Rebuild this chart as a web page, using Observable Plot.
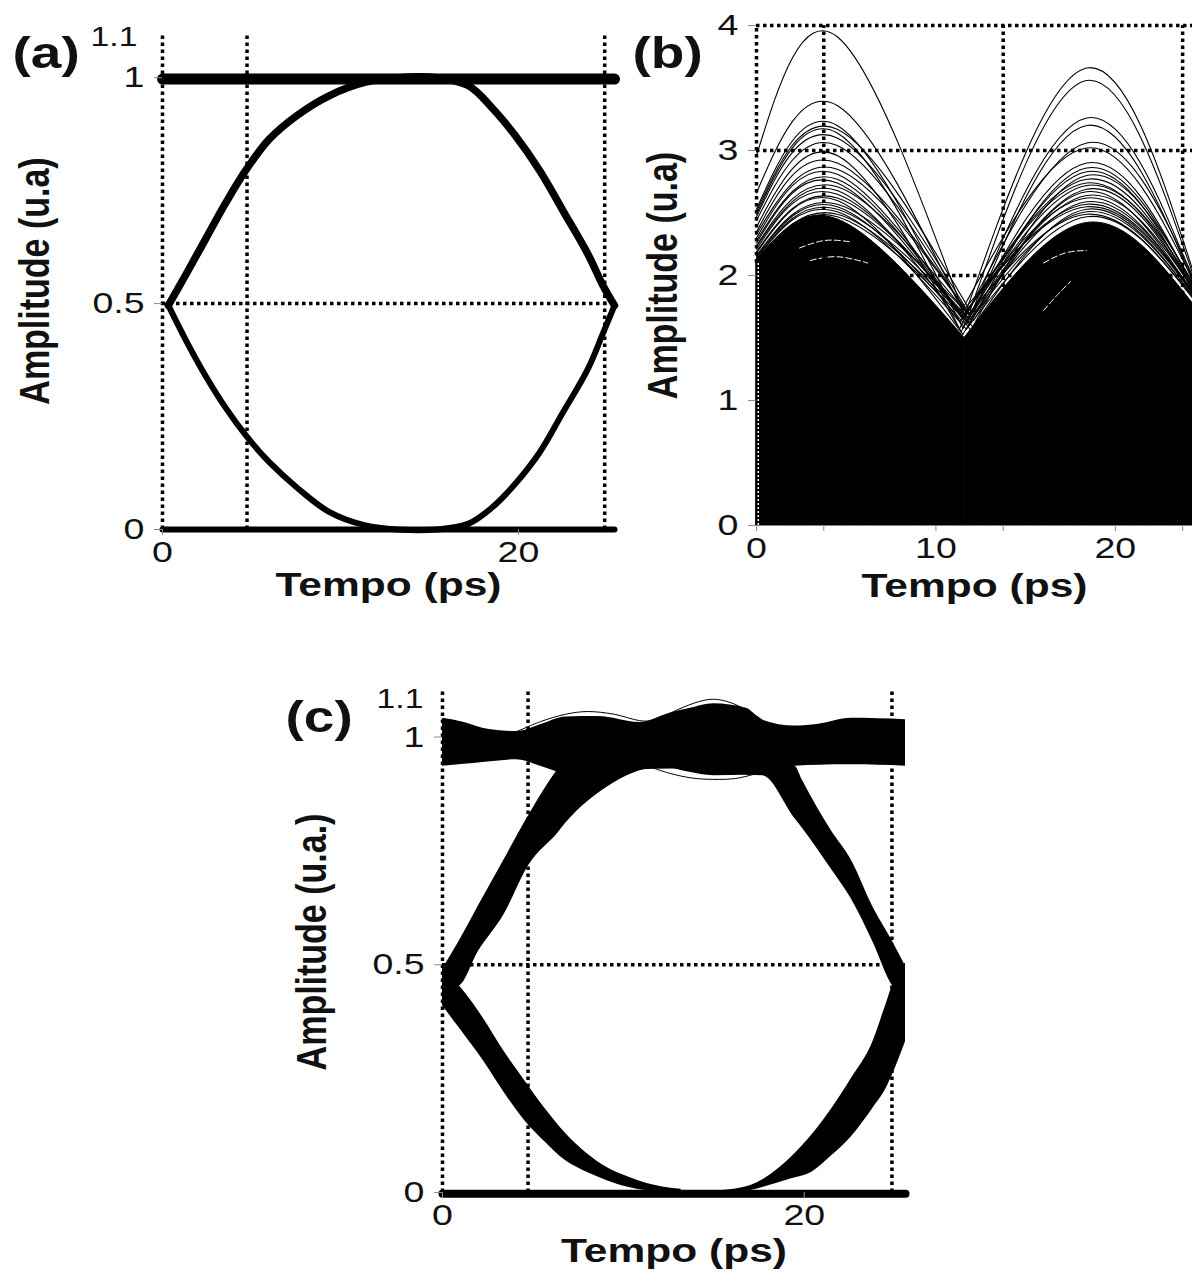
<!DOCTYPE html>
<html>
<head>
<meta charset="utf-8">
<script src="https://cdn.jsdelivr.net/npm/d3@7"></script>
<script src="https://cdn.jsdelivr.net/npm/@observablehq/plot@0.6"></script>
<style>
  html, body { margin: 0; padding: 0; background: #fff; }
  #fig { position: relative; width: 1192px; height: 1278px; overflow: hidden; background: #fff; }
  #fig svg { position: absolute; overflow: visible; }
</style>
</head>
<body>
<div id="fig"></div>
<script>
// ---------- (a) back-to-back eye: arc samples, time in ps, amplitude in a.u. ----------
const aTime  = [0.33, 1.34, 2.45, 3.57, 4.73, 6.0, 7.58, 9.36, 11.4, 13.2, 15.4, 17.2, 18.5, 19.8, 21.2, 22.5, 23.9, 24.75, 25.4];
const aUpper = [0.496, 0.566, 0.645, 0.724, 0.798, 0.864, 0.917, 0.96, 0.99, 1.0, 1.0, 0.982, 0.934, 0.873, 0.794, 0.706, 0.61, 0.54, 0.496];
const aLower = [0.496, 0.417, 0.338, 0.268, 0.206, 0.149, 0.092, 0.039, 0.009, 0.0, 0.0, 0.013, 0.048, 0.10, 0.171, 0.259, 0.355, 0.434, 0.496];
const aRailT = [0, 25.4];
const aOnes  = [0.997, 0.997];
const aZeros = [0.0, 0.0];
const aGridX = [0, 4.75, 24.85];
const aGridY = [0.5];

// ---------- (b) unfiltered eye: one row per trace ----------
const bPeak1At = 4.5, bPeak2At = 18.4, bEndAt = 24.3;
const bStart    = [2.96, 2.66, 2.53, 2.51, 2.49, 2.47, 2.44, 2.39, 2.35, 2.33, 2.30, 2.28, 2.26, 2.24, 2.23, 2.21, 2.19, 2.18, 2.16, 2.15, 2.14, 2.13, 2.12, 2.11];
const bPeak1    = [3.91, 3.36, 3.20, 3.17, 3.14, 3.10, 3.04, 2.96, 2.90, 2.85, 2.81, 2.77, 2.74, 2.71, 2.68, 2.65, 2.62, 2.60, 2.57, 2.55, 2.53, 2.51, 2.49, 2.47];
const bTroughAt = [11.75, 11.6, 11.5, 11.9, 11.4, 12.0, 11.7, 11.3, 12.1, 11.55, 11.85, 11.45, 11.95, 11.65, 11.35, 12.05, 11.75, 11.5, 11.8, 11.6, 11.9, 11.7, 11.4, 11.8];
const bTrough   = [1.62, 1.68, 1.58, 1.72, 1.55, 1.66, 1.70, 1.57, 1.64, 1.75, 1.60, 1.67, 1.56, 1.71, 1.63, 1.59, 1.66, 1.53, 1.69, 1.61, 1.65, 1.57, 1.70, 1.62];
const bPeak2    = [3.26, 3.66, 2.90, 3.56, 2.83, 3.20, 2.74, 3.06, 2.67, 3.02, 2.86, 2.62, 2.80, 2.57, 2.77, 2.53, 2.72, 2.69, 2.49, 2.64, 2.59, 2.47, 2.55, 2.51];
const bEnd      = [1.98, 2.05, 1.92, 2.02, 1.88, 1.96, 1.90, 2.00, 1.86, 1.97, 1.93, 1.85, 1.95, 1.87, 1.91, 1.84, 1.94, 1.89, 1.83, 1.90, 1.88, 1.82, 1.86, 1.84];
// solid body of overlapping traces (two arcs)
const bMassT   = [[0, 4.5, 11.6], [11.6, 18.4, 24.3]];
const bMassTop = [[2.12, 2.45, 1.50], [1.50, 2.42, 1.78]];
// thin gaps left open inside the solid body
const bGapT = [[3.0, 4.5, 6.2], [2.4, 3.8, 5.2], [16.0, 17.2, 18.4], [16.0, 16.8, 17.5]];
const bGapV = [[2.12, 2.15, 2.10], [2.22, 2.28, 2.27], [2.10, 2.18, 2.20], [1.72, 1.85, 1.95]];
const bGridX = [3.75, 13.75, 23.75];
const bGridY = [2, 3, 4];
const bTicksX = [0, 3.75, 10, 13.75, 20, 23.75];

// ---------- (c) filtered eye: band envelopes (lower / upper) ----------
const cTopT  = [0, 1.2, 2.5, 4.1, 5.5, 6.8, 8.6, 10.9, 12.7, 13.6, 15.0, 16.8, 17.7, 19.5, 20.8, 22.6, 25.6];
const cTopLo = [0.936, 0.94, 0.945, 0.95, 0.935, 0.92, 0.918, 0.928, 0.93, 0.923, 0.915, 0.916, 0.923, 0.936, 0.938, 0.939, 0.936];
const cTopHi = [1.041, 1.032, 1.017, 1.012, 1.028, 1.044, 1.045, 1.032, 1.054, 1.062, 1.073, 1.063, 1.037, 1.024, 1.028, 1.041, 1.038];
const cRiseT  = [0, 0.9, 2, 3.4, 4.8, 6.4, 6.8, 9.1, 10.5, 12];
const cRiseLo = [0.45, 0.453, 0.53, 0.61, 0.72, 0.79, 0.81, 0.89, 0.92, 0.936];
const cRiseHi = [0.49, 0.55, 0.63, 0.73, 0.83, 0.93, 0.95, 0.95, 0.95, 0.95];
const cFallT  = [16.8, 17.7, 19.5, 19.9, 21.5, 22.6, 23.8, 24.9, 25.6];
const cFallLo = [0.916, 0.915, 0.82, 0.80, 0.71, 0.645, 0.55, 0.453, 0.43];
const cFallHi = [0.95, 0.95, 0.936, 0.905, 0.794, 0.73, 0.627, 0.55, 0.497];
const cDropT  = [0, 0.95, 2.3, 3.4, 4.56, 5.7, 6.8, 7.95, 9.1, 10.2, 11.3, 13.2];
const cDropLo = [0.41, 0.36, 0.287, 0.22, 0.157, 0.11, 0.07, 0.045, 0.026, 0.012, 0.004, 0.0];
const cDropHi = [0.49, 0.453, 0.38, 0.31, 0.245, 0.183, 0.13, 0.087, 0.055, 0.035, 0.02, 0.007];
const cClimbT  = [15, 16.5, 17, 19.3, 20.4, 21.5, 22.6, 23.8, 24.5, 24.9, 25.6];
const cClimbLo = [0.0, 0.0, 0.004, 0.03, 0.044, 0.08, 0.122, 0.185, 0.226, 0.26, 0.331];
const cClimbHi = [0.003, 0.01, 0.015, 0.078, 0.125, 0.183, 0.25, 0.331, 0.41, 0.453, 0.47];
const cRailT = [0, 25.6];
const cZeros = [-0.003, -0.003];
// stray traces just outside the "one" band
const cOut1T = [4.1, 5.5, 6.8, 8.0, 9.5, 10.9, 11.8];
const cOut1  = [1.012, 1.035, 1.05, 1.056, 1.05, 1.036, 1.035];
const cOut2T = [11.8, 13.0, 14.2, 15.0, 15.9, 17.0, 17.7];
const cOut2  = [1.035, 1.06, 1.078, 1.083, 1.076, 1.055, 1.037];
const cOut3T = [11.5, 12.6, 13.8, 15.0, 16.2, 17.2];
const cOut3  = [0.934, 0.92, 0.91, 0.907, 0.909, 0.918];
const cGridX = [0, 4.73, 24.85];
const cGridY = [0.5];

// ---------- helpers ----------
const FONT = "Liberation Sans";
const GRID = {stroke: "#000", strokeWidth: 3.5, strokeDasharray: "3.5,3.5"};
const TICK = {stroke: "#8c8c8c", fill: "#111", fontSize: 30, label: null};
const pts = (T, V) => T.map((t, i) => ({t, v: V[i]}));
const band = (T, L, H) => T.map((t, i) => ({t, lo: L[i], hi: H[i]}));

// traces of (b): each trace is two arcs meeting at its trough
const bRows = [];
bPeak1.forEach((p, i) => {
  bRows.push({id: i + "a", t: 0, v: bStart[i]}, {id: i + "a", t: bPeak1At, v: p}, {id: i + "a", t: bTroughAt[i], v: bTrough[i]});
  bRows.push({id: i + "b", t: bTroughAt[i], v: bTrough[i]}, {id: i + "b", t: bPeak2At, v: bPeak2[i]}, {id: i + "b", t: bEndAt, v: bEnd[i]});
});
const bMass = bMassT.flatMap((T, k) => T.map((t, i) => ({seg: k, t, v: bMassTop[k][i]})));
const bGaps = bGapT.flatMap((T, k) => T.map((t, i) => ({seg: k, t, v: bGapV[k][i]})));

function titles(xTitle, yTitle, panel, dyX, dxY, dxP, dyP) {
  return [
    Plot.text([xTitle], {text: d => d, frameAnchor: "bottom", dy: dyX, fontSize: 34, fontWeight: "bold", fill: "#111"}),
    Plot.text([yTitle], {text: d => d, frameAnchor: "left", dx: dxY, rotate: -90, textAnchor: "middle", fontSize: 34, fontWeight: "bold", fill: "#111"}),
    Plot.text([panel], {text: d => d, frameAnchor: "top-left", dx: dxP, dy: dyP, textAnchor: "start", fontSize: 44, fontWeight: "bold", fill: "#111"})
  ];
}

// text in this figure is set wider than the font's natural proportions
function widen(svg, k) {
  for (const t of svg.querySelectorAll("text")) {
    const own = t.getAttribute("transform") || "";
    if (own.includes("rotate")) { t.setAttribute("transform", own + ` scale(1,${k})`); continue; }
    const w = t.getComputedTextLength();
    if (w > 0) { t.setAttribute("textLength", (w * k).toFixed(1)); t.setAttribute("lengthAdjust", "spacingAndGlyphs"); }
  }
}

function mount(svg, left, top) {
  svg.style.left = left + "px";
  svg.style.top = top + "px";
  document.getElementById("fig").appendChild(svg);
  widen(svg, 1.25);
}

const style = {fontFamily: FONT, background: "transparent", overflow: "visible"};

// ---------- (a) ----------
const plotA = Plot.plot({
  width: 620, height: 640,
  marginLeft: 162, marginRight: 6, marginTop: 32, marginBottom: 111,
  x: {domain: [0, 25.4]}, y: {domain: [0, 1.1]},
  style,
  marks: [
    Plot.ruleX(aGridX, {y1: 0, y2: 1.1, ...GRID}),
    Plot.ruleY(aGridY, {x1: 0, x2: 25.4, ...GRID}),
    Plot.line(pts(aRailT, aOnes), {x: "t", y: "v", stroke: "#000", strokeWidth: 11}),
    Plot.line(pts(aRailT, aZeros), {x: "t", y: "v", stroke: "#000", strokeWidth: 6}),
    Plot.line(pts(aTime, aUpper), {x: "t", y: "v", curve: "catmull-rom", stroke: "#000", strokeWidth: 7.5}),
    Plot.line(pts(aTime, aLower), {x: "t", y: "v", curve: "catmull-rom", stroke: "#000", strokeWidth: 6}),
    Plot.axisX({ticks: [0, 20], tickSize: 6, tickPadding: 5, tickFormat: d => String(d), ...TICK}),
    Plot.axisY({ticks: [0, 0.5, 1], tickSize: 8, tickPadding: 10, tickFormat: d => String(d), ...TICK}),
    Plot.text(["1.1"], {text: d => d, frameAnchor: "top-left", dx: -25, dy: -6, textAnchor: "end", fontSize: 27, fill: "#111"}),
    ...titles("Tempo (ps)", "Amplitude (u.a)", "(a)", 66, -127, -150, 4)
  ]
});
mount(plotA, 0, 0);

// ---------- (b) ----------
const plotB = Plot.plot({
  width: 592, height: 640,
  marginLeft: 156, marginRight: 0, marginTop: 25, marginBottom: 115,
  x: {domain: [0, 24.3]}, y: {domain: [0, 4]},
  style,
  marks: [
    Plot.areaY(bMass, {x: "t", y1: 0, y2: "v", z: "seg", curve: "natural", fill: "#000", stroke: "#000", strokeWidth: 1}),
    Plot.line(bGaps, {x: "t", y: "v", z: "seg", curve: "natural", stroke: "#fff", strokeWidth: 1, strokeDasharray: "6,3"}),
    Plot.line(bRows, {x: "t", y: "v", z: "id", curve: "natural", stroke: "#000", strokeWidth: 1.1}),
    Plot.ruleX(bGridX, {y1: 0, y2: 4, ...GRID}),
    Plot.ruleY(bGridY, {x1: 0, x2: 24.3, ...GRID}),
    Plot.ruleX([0], {y1: 2.1, y2: 4, ...GRID}),
    Plot.ruleX([0.1], {y1: 0, y2: 2.1, stroke: "#fff", strokeWidth: 1.5, strokeDasharray: "2,2"}),
    Plot.axisX({ticks: bTicksX, tickSize: 6, tickPadding: 5, tickFormat: d => (d % 10 === 0 ? String(d) : ""), ...TICK}),
    Plot.axisY({ticks: [0, 1, 2, 3, 4], tickSize: 8, tickPadding: 10, tickFormat: d => String(d), ...TICK}),
    ...titles("Tempo (ps)", "Amplitude (u.a)", "(b)", 71, -93, -124, 11)
  ]
});
mount(plotB, 600, 0);

// ---------- (c) ----------
const plotC = Plot.plot({
  width: 640, height: 618,
  marginLeft: 162, marginRight: 15, marginTop: 31, marginBottom: 86,
  x: {domain: [0, 25.6]}, y: {domain: [0, 1.1]},
  style,
  marks: [
    Plot.ruleX(cGridX, {y1: 0, y2: 1.1, ...GRID}),
    Plot.ruleY(cGridY, {x1: 0, x2: 25.6, ...GRID}),
    Plot.areaY(band(cTopT, cTopLo, cTopHi), {x: "t", y1: "lo", y2: "hi", curve: "monotone-x", fill: "#000"}),
    Plot.areaY(band(cRiseT, cRiseLo, cRiseHi), {x: "t", y1: "lo", y2: "hi", curve: "monotone-x", fill: "#000"}),
    Plot.areaY(band(cFallT, cFallLo, cFallHi), {x: "t", y1: "lo", y2: "hi", curve: "monotone-x", fill: "#000"}),
    Plot.areaY(band(cDropT, cDropLo, cDropHi), {x: "t", y1: "lo", y2: "hi", curve: "monotone-x", fill: "#000"}),
    Plot.areaY(band(cClimbT, cClimbLo, cClimbHi), {x: "t", y1: "lo", y2: "hi", curve: "monotone-x", fill: "#000"}),
    Plot.line(pts(cRailT, cZeros), {x: "t", y: "v", stroke: "#000", strokeWidth: 8}),
    Plot.line(pts(cOut1T, cOut1), {x: "t", y: "v", curve: "catmull-rom", stroke: "#000", strokeWidth: 1}),
    Plot.line(pts(cOut2T, cOut2), {x: "t", y: "v", curve: "catmull-rom", stroke: "#000", strokeWidth: 1}),
    Plot.line(pts(cOut3T, cOut3), {x: "t", y: "v", curve: "catmull-rom", stroke: "#000", strokeWidth: 1}),
    Plot.axisX({ticks: [0, 20], tickSize: 6, tickPadding: 5, tickFormat: d => String(d), ...TICK}),
    Plot.axisY({ticks: [0, 0.5, 1], tickSize: 8, tickPadding: 10, tickFormat: d => String(d), ...TICK}),
    Plot.text(["1.1"], {text: d => d, frameAnchor: "top-left", dx: -19, dy: -3, textAnchor: "end", fontSize: 27, fill: "#111"}),
    ...titles("Tempo (ps)", "Amplitude (u.a.)", "(c)", 69, -130, -157, 9)
  ]
});
mount(plotC, 280, 660);
</script>
</body>
</html>
